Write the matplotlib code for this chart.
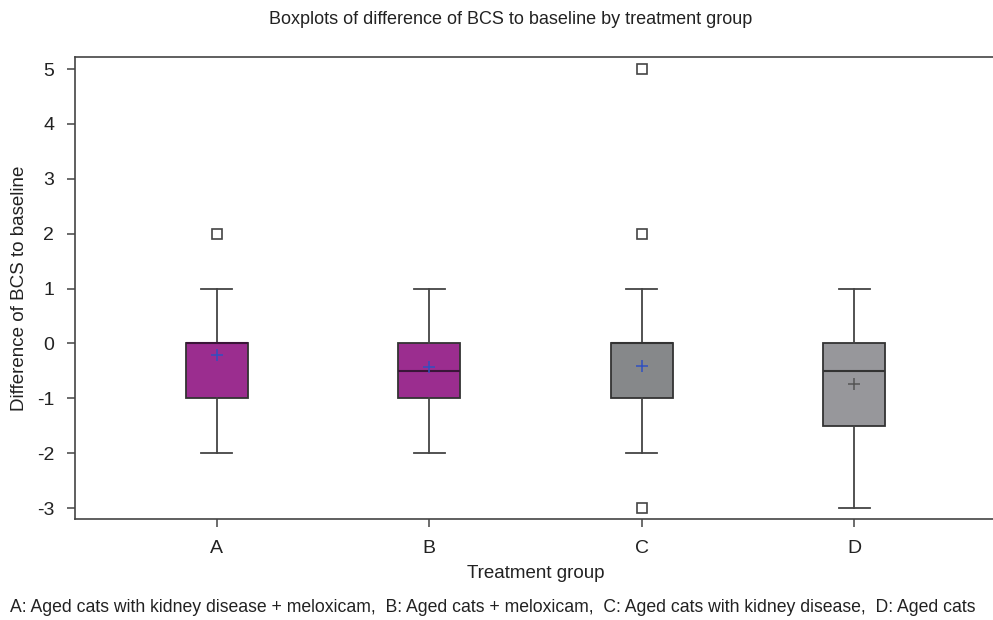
import matplotlib
matplotlib.use("Agg")
import matplotlib.pyplot as plt

plt.rcParams["font.family"] = ["Liberation Sans", "DejaVu Sans"]
plt.rcParams["axes.unicode_minus"] = False

# === data ===
groups = ["A", "B", "C", "D"]
q1 = [-1, -1, -1, -1.5]
med = [0, -0.5, 0, -0.5]
q3 = [0, 0, 0, 0]
whis_lo = [-2, -2, -2, -3]
whis_hi = [1, 1, 1, 1]
means = [-0.22, -0.43, -0.41, -0.74]
outliers = [[2], [], [5, 2, -3], []]

box_colors = ["#9B2D8F", "#9B2D8F", "#86888A", "#97979B"]
mean_colors = ["#3050C0", "#3050C0", "#3050C0", "#555555"]
median_colors = ["#3A1538", "#3A1538", "#333333", "#333333"]

stats = []
for i, g in enumerate(groups):
    stats.append(dict(label=g, q1=q1[i], med=med[i], q3=q3[i],
                      whislo=whis_lo[i], whishi=whis_hi[i],
                      mean=means[i], fliers=outliers[i]))

fig = plt.figure(figsize=(9.93, 6.2), dpi=100)
ax = fig.add_axes([75 / 993, 101 / 620, 921 / 993, 462 / 620])

edge = "#333333"
bp = ax.bxp(stats, positions=range(1, 5), widths=0.29, capwidths=0.145,
            showmeans=True, patch_artist=True,
            boxprops=dict(edgecolor=edge, linewidth=1.3),
            whiskerprops=dict(color="#444444", linewidth=1.3),
            capprops=dict(color="#444444", linewidth=1.3),
            medianprops=dict(color=edge, linewidth=1.5),
            meanprops=dict(marker="+", markersize=8, markeredgewidth=1.1),
            flierprops=dict(marker="s", markersize=7, markerfacecolor="white",
                            markeredgecolor="#444444", markeredgewidth=1.2))

for patch, c in zip(bp["boxes"], box_colors):
    patch.set_facecolor(c)
for m, c in zip(bp["means"], mean_colors):
    m.set_color(c)
    m.set_markeredgecolor(c)
for m, c in zip(bp["medians"], median_colors):
    m.set_color(c)

ax.set_xlim(0.332, 4.668)
ax.set_ylim(-3.2, 5.22)
ax.set_yticks(range(-3, 6))
ax.set_xticks(range(1, 5))
ax.set_xticklabels(groups)
ax.tick_params(direction="out", length=6, width=1.1, color="#444444",
               labelsize=14, labelcolor="#222222")
ax.tick_params(axis="y", pad=9)
ax.tick_params(axis="x", pad=9)
for s in ax.spines.values():
    s.set_color("#444444")
    s.set_linewidth(1.2)

ax.set_xlabel("Treatment group", fontsize=13.5, color="#222222")
ax.set_ylabel("Difference of BCS to baseline", fontsize=13.5, color="#222222")
ax.xaxis.set_label_coords(0.5, (519 - 574) / 462)
ax.xaxis.label.set_va("center")
ax.yaxis.set_label_coords((20 - 75) / 921, 0.5)
ax.yaxis.label.set_va("center")

fig.text(511 / 993, 1 - 19 / 620, "Boxplots of difference of BCS to baseline by treatment group",
         ha="center", va="center", fontsize=13, color="#222222")
fig.text(10 / 993, 1 - 607 / 620,
         "A: Aged cats with kidney disease + meloxicam,  B: Aged cats + meloxicam,  "
         "C: Aged cats with kidney disease,  D: Aged cats",
         ha="left", va="center", fontsize=12.7, color="#222222")

fig.savefig("out.png", dpi=100)
